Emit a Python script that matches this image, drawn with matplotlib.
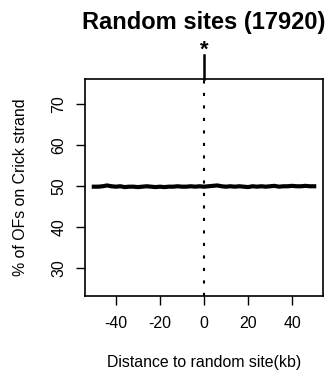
import matplotlib
matplotlib.use("Agg")
import matplotlib.pyplot as plt

plt.rcParams['font.family'] = ['Liberation Sans', 'DejaVu Sans']
plt.rcParams['axes.unicode_minus'] = False

distance_kb = list(range(-50, 51, 2))
pct_crick = [49.8, 49.8, 49.9, 50.1, 49.9, 49.8, 49.9, 49.7, 49.8, 49.8,
             49.7, 49.8, 49.9, 49.8, 49.7, 49.8, 49.7, 49.8, 49.8, 49.9,
             49.8, 49.8, 49.9, 49.8, 49.9, 49.8, 49.9, 50.0, 50.1, 49.9,
             49.8, 49.9, 49.8, 49.9, 49.8, 49.7, 49.9, 49.8, 49.9, 49.8,
             49.9, 50.0, 49.8, 49.9, 49.9, 50.0, 49.9, 49.9, 50.0, 49.9, 49.9]
x_ticks = [-40, -20, 0, 20, 40]
y_ticks = [30, 40, 50, 60, 70]
title = "Random sites (17920)"
xlabel = "Distance to random site(kb)"
ylabel = "% of OFs on Crick strand"

W, H = 331, 373
box_l, box_r, box_t, box_b = 85, 323, 79, 296

fig = plt.figure(figsize=(W/100, H/100), dpi=100)
ax = fig.add_axes([box_l/W, 1-box_b/H, (box_r-box_l)/W, (box_b-box_t)/H])
ax.plot(distance_kb, pct_crick, color='black', lw=3.0, solid_joinstyle='round')
ax.set_xlim(-54, 54)
ax.set_ylim(23.2, 76.0)
ax.axvline(0, color='black', lw=1.5, ls=(0, (1.5, 4.5)))
hpx = box_b - box_t
# solid marker above plot
ax.plot([0, 0], [1.0, (box_b-55)/hpx], transform=ax.get_xaxis_transform(),
        color='black', lw=1.8, clip_on=False)
ax.text(0, (box_b-61)/hpx, '*', transform=ax.get_xaxis_transform(),
        ha='center', va='bottom', fontsize=16, fontweight='bold')
ax.set_xticks(x_ticks)
ax.set_yticks(y_ticks)
ax.tick_params(axis='both', length=6.5, width=1, labelsize=11.4, pad=8, direction='out')
ax.tick_params(axis='y', labelrotation=90, pad=7)
for lab in ax.get_yticklabels():
    lab.set_va('center')
for s in ax.spines.values():
    s.set_linewidth(1.2)
fig.text(204/W, 1-23/H, title, ha='center', va='center', fontsize=17, fontweight='bold')
fig.text(204/W, 1-362/H, xlabel, ha='center', va='center', fontsize=11.4)
fig.text(21/W, 1-187/H, ylabel, ha='center', va='center', fontsize=11.4, rotation=90)
fig.savefig('out.png', dpi=100)
